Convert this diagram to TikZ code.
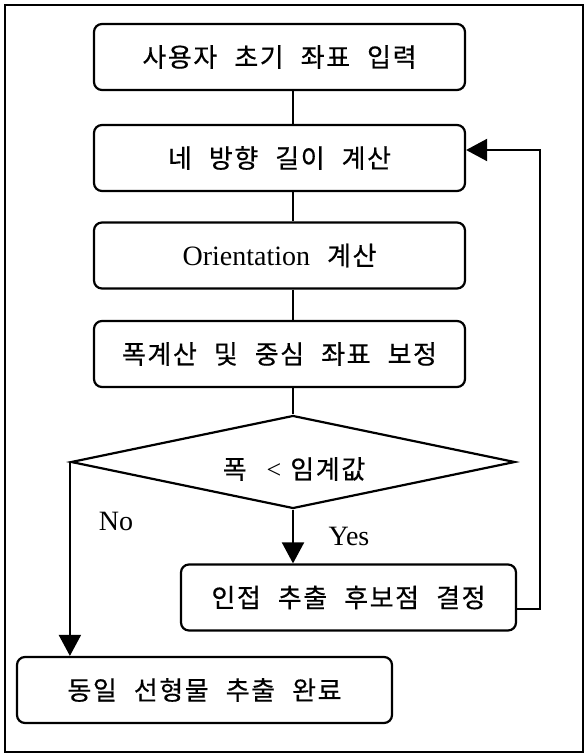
\documentclass[tikz,border=0pt]{standalone}
\usepackage{fontspec}
\setmainfont{Liberation Serif}
\newfontfamily\kr[LetterSpace=6,FakeBold=0.5]{Noto Sans CJK KR}
\usetikzlibrary{arrows.meta,shapes.geometric}
\newcommand\kg{\hspace{17pt}}
\begin{document}
\begin{tikzpicture}[x=1pt,y=-1pt,
  kfont/.style={font=\kr\fontsize{26}{30}\selectfont},
  box/.style={draw,line width=2.2pt,rounded corners=8pt,inner sep=0pt,
    minimum height=66pt,kfont},
  bigbox/.style={box,minimum width=371pt},
  conn/.style={line width=2pt},
  arr/.style={conn,-{Triangle[length=21pt,width=22pt]}},
  lab/.style={font=\fontsize{28}{32}\selectfont,inner sep=0pt}]
\useasboundingbox (0,0) rectangle (587,754);
\draw[line width=1.8pt] (5,5) rectangle (583,752);

\node[bigbox] (b1) at (279.5,57) {사용자\kg 초기\kg 좌표\kg 입력};
\node[bigbox] (b2) at (279.5,158) {네\kg 방향\kg 길이\kg 계산};
\node[bigbox] (b3) at (279.5,255.5) {{\rmfamily\fontsize{28}{32}\selectfont Orientation}\kg 계산};
\node[bigbox] (b4) at (279.5,354) {폭계산\kg 및\kg 중심\kg 좌표\kg 보정};
\node[draw,shape=diamond,line width=2.2pt,inner sep=0pt,minimum width=444pt,minimum height=93pt] (d) at (293,462) {};
\node[kfont,inner sep=0pt] (dt) at (294,469) {폭\hspace{20pt}{\rmfamily<}\hspace{9pt}임계값};
\node[box,minimum width=335pt] (b5) at (348.5,597.5) {인접\kg 추출\kg 후보점\kg 결정};
\node[box,minimum width=375pt] (b6) at (204.5,690) {동일\kg 선형물\kg 추출\kg 완료};

\node[lab] (no) at (116,521) {No};
\node[lab] (yes) at (349,536) {Yes};

\draw[conn] (b1.south -| d.north) -- (b2.north -| d.north);
\draw[conn] (b2.south -| d.north) -- (b3.north -| d.north);
\draw[conn] (b3.south -| d.north) -- (b4.north -| d.north);
\draw[conn] (b4.south -| d.north) -- (d.north);
\draw[arr] (d.south) -- (b5.north -| d.south);
\draw[arr] (d.west) -- (b6.north -| d.west);
\coordinate (loopx) at (540,0);
\draw[arr] (b5.east |- 0,609) -- (loopx |- 0,609) -- (loopx |- 0,150) -- (b2.east |- 0,150);
\end{tikzpicture}
\end{document}
